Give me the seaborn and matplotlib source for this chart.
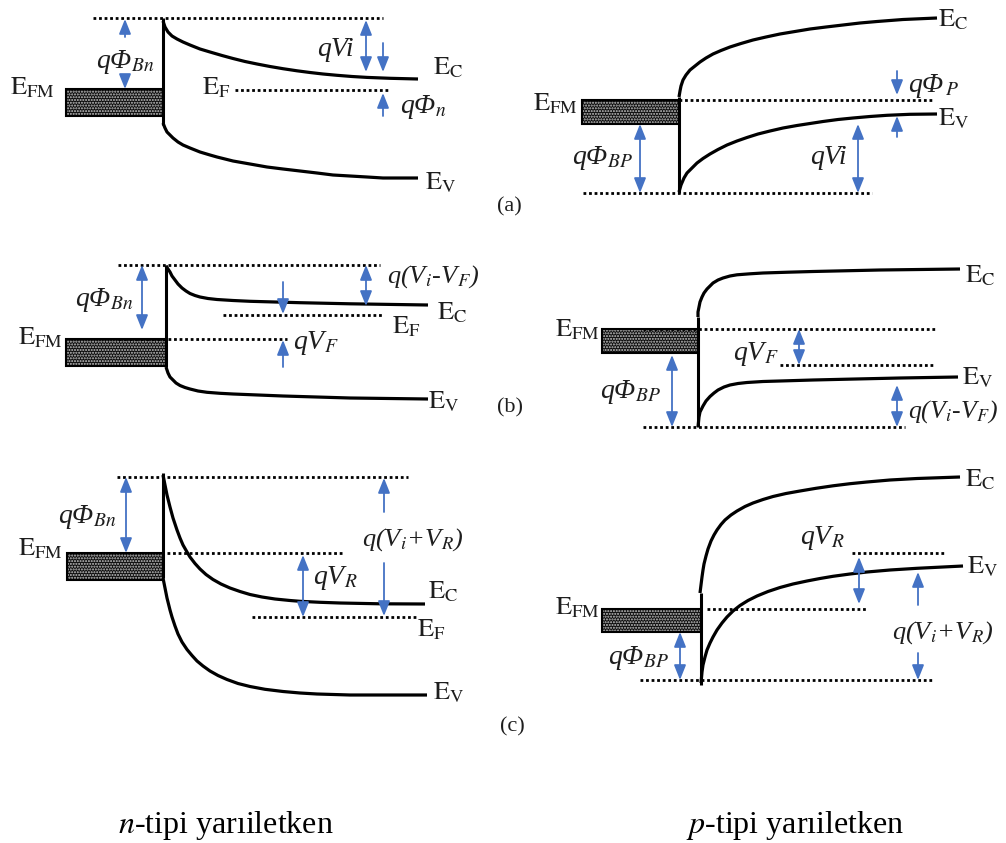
import matplotlib
matplotlib.use("Agg")
import matplotlib.pyplot as plt
from matplotlib.patches import Rectangle
import seaborn as sns

# band diagrams of metal / semiconductor contact, drawn in pixel units of the original image
sns.set_theme(style="white")
plt.rcParams["font.family"] = ["Liberation Serif", "DejaVu Serif"]
plt.rcParams["mathtext.fontset"] = "stix"

BLUE = "#4472C4"
INK = "#1e1e1e"

# ---- conduction / valence band curves (x, y in image pixels) ----
an_ec_x = [163, 165, 168, 172, 177, 183, 190, 200, 210, 222, 233, 245, 257, 270, 283, 297, 310, 323, 337, 352, 367, 390, 418]
an_ec_y = [21, 27, 32, 36, 39, 42, 45, 49, 52, 55.5, 58.5, 61.5, 64, 66.5, 68.7, 70.8, 72.5, 74, 75.3, 76.5, 77.4, 78.3, 79]
an_ev_x = [163, 165, 167, 170, 173, 178, 183, 190, 200, 210, 217, 233, 250, 267, 283, 300, 317, 333, 350, 367, 383, 418]
an_ev_y = [123, 128, 132, 135, 138, 142, 145, 148, 152, 155, 157, 161, 164, 167, 169, 171, 173, 175, 176, 177, 178, 178]

ap_ec_x = [679, 680, 681, 683, 686, 690, 695, 700, 706, 713, 721, 730, 741, 753, 766, 780, 795, 810, 826, 843, 860, 877, 903, 937]
ap_ec_y = [97, 91, 86, 80, 75, 70, 66, 62, 58, 54, 50.5, 47, 43.5, 40, 37, 34, 31.5, 29, 27, 25, 23, 21.5, 19.5, 18]
ap_ev_x = [679, 681, 684, 687, 692, 697, 703, 710, 718, 727, 737, 747, 758, 770, 783, 797, 810, 823, 838, 853, 870, 887, 910, 937]
ap_ev_y = [192, 185, 178, 173, 168, 163, 158.5, 154, 149.5, 145, 141, 137.5, 134, 131, 128, 125.5, 123.5, 121.5, 119.5, 118, 116.5, 115.3, 114.3, 114]

bn_ec_x = [166, 168, 170, 172, 175, 178, 182, 186, 190, 195, 200, 208, 217, 233, 250, 275, 300, 350, 428]
bn_ec_y = [266, 269, 272, 276, 280, 284, 288, 291, 293.5, 295.5, 297, 298.5, 299.5, 300.5, 301.3, 302, 302.7, 303.8, 305]
bn_ev_x = [166, 167, 168, 170, 173, 176, 180, 185, 190, 198, 207, 220, 233, 258, 283, 350, 428]
bn_ev_y = [367, 370, 373, 377, 380, 383, 385.5, 387.5, 389, 391, 392.3, 393.3, 394, 395, 396, 398, 399]

bp_ec_x = [698, 698, 699, 700, 702, 704, 707, 710, 713, 718, 723, 730, 737, 750, 763, 788, 813, 880, 960]
bp_ec_y = [317, 312, 307, 302, 297, 293, 289, 286, 283, 280, 278, 276, 274.8, 273.8, 273, 272.2, 271.5, 270, 269]
bp_ev_x = [698, 699, 700, 703, 706, 710, 714, 718, 724, 730, 738, 747, 763, 780, 813, 847, 900, 958]
bp_ev_y = [427, 417, 412, 406, 401, 396.5, 393, 390, 387, 385, 383.5, 382.5, 381.5, 381, 380, 379.2, 378, 377]

cn_ec_x = [163, 165, 167, 170, 173, 177, 180, 183, 187, 190, 195, 200, 206, 213, 221, 230, 240, 250, 262, 275, 290, 300, 320, 340, 380, 425]
cn_ec_y = [475, 485, 495, 507, 518, 530, 538, 545, 552, 557, 563.5, 569, 574.5, 579.5, 584, 588, 591.5, 594.5, 597, 599, 600.5, 601.3, 602.3, 603, 603.8, 604]
cn_ev_x = [163, 165, 167, 170, 172, 175, 178, 182, 187, 192, 197, 203, 210, 218, 227, 238, 250, 265, 283, 300, 317, 350, 427]
cn_ev_y = [578, 588, 598, 610, 617, 626, 634, 642, 649.5, 655.5, 661, 666, 671, 675.5, 679.5, 683.5, 686.5, 689.3, 691.5, 693, 694, 695, 695]

cp_ec_x = [700, 701, 702, 703, 704, 706, 708, 711, 714, 717, 721, 725, 731, 737, 745, 753, 763, 773, 786, 800, 816, 833, 850, 867, 890, 917, 960]
cp_ec_y = [593, 585, 577, 570, 564, 556, 549, 541, 535, 530, 524.5, 520, 515, 511, 506.5, 503, 499.5, 496.5, 493.5, 491, 488.3, 485.8, 483.7, 482, 480, 478.5, 477]
cp_ev_x = [701, 702, 703, 705, 707, 710, 713, 717, 722, 727, 733, 740, 748, 757, 768, 780, 793, 807, 820, 833, 850, 867, 890, 917, 963]
cp_ev_y = [683, 672, 665, 657, 650, 643, 637, 630, 623, 617, 611, 605.5, 600.5, 596, 591.5, 587.5, 584, 581, 578.5, 576.3, 574, 572, 570, 568.3, 566]

curves = [(an_ec_x, an_ec_y), (an_ev_x, an_ev_y), (ap_ec_x, ap_ec_y), (ap_ev_x, ap_ev_y),
          (bn_ec_x, bn_ec_y), (bn_ev_x, bn_ev_y), (bp_ec_x, bp_ec_y), (bp_ev_x, bp_ev_y),
          (cn_ec_x, cn_ec_y), (cn_ev_x, cn_ev_y), (cp_ec_x, cp_ec_y), (cp_ev_x, cp_ev_y)]

# metal/semiconductor interface: x, y top, y bottom
iface_x = [163, 679, 166, 698, 163, 701]
iface_y0 = [18, 97, 265, 317, 473, 593]
iface_y1 = [125, 193, 367, 427, 578, 685]

# metal blocks: x left, x right, y top, y bottom
metal_x0 = [66, 582, 66, 602, 67, 602]
metal_x1 = [163, 679, 166, 698, 163, 701]
metal_y0 = [89, 100, 339, 329, 553, 609]
metal_y1 = [116, 124, 366, 353, 580, 632]

# dotted levels: y, x start, x end
dot_y = [18, 90, 100, 193, 265, 315, 339, 329, 365, 427, 477, 553, 617, 609, 553, 680]
dot_x0 = [93, 235, 679, 583, 118, 223, 118, 643, 780, 643, 117, 167, 252, 707, 852, 640]
dot_x1 = [383, 390, 933, 872, 380, 383, 287, 935, 935, 905, 408, 343, 417, 868, 945, 932]

# double headed arrows: x, y top, y bottom
dbl_x = [366, 640, 858, 142, 366, 672, 799, 897, 126, 303, 680, 859]
dbl_y0 = [20, 124, 124, 265, 265, 355, 329, 385, 477, 555, 632, 557]
dbl_y1 = [72, 193, 193, 330, 306, 427, 365, 427, 553, 617, 680, 604]

# single arrows: x, tail y, head y
one_x = [125, 125, 383, 383, 897, 897, 283, 283, 384, 384, 918, 918]
one_y0 = [37, 78, 43, 116, 71, 137, 282, 367, 512, 563, 605, 653]
one_y1 = [19, 89, 72, 93, 95, 116, 314, 340, 478, 616, 572, 680]

# band labels
e_txt = [r"$\mathrm{E_{FM}}$", r"$\mathrm{E_C}$", r"$\mathrm{E_F}$", r"$\mathrm{E_V}$",
         r"$\mathrm{E_{FM}}$", r"$\mathrm{E_C}$", r"$\mathrm{E_V}$",
         r"$\mathrm{E_{FM}}$", r"$\mathrm{E_C}$", r"$\mathrm{E_F}$", r"$\mathrm{E_V}$",
         r"$\mathrm{E_{FM}}$", r"$\mathrm{E_C}$", r"$\mathrm{E_V}$",
         r"$\mathrm{E_{FM}}$", r"$\mathrm{E_C}$", r"$\mathrm{E_F}$", r"$\mathrm{E_V}$",
         r"$\mathrm{E_{FM}}$", r"$\mathrm{E_C}$", r"$\mathrm{E_V}$"]
e_x = [10, 433, 202, 425, 533, 938, 938, 18, 437, 392, 428, 555, 965, 962,
       18, 428, 417, 433, 555, 965, 967]
e_y = [88, 68, 88, 183, 104, 20, 119, 338, 313, 327, 402, 330, 276, 378,
       549, 592, 630, 693, 608, 480, 567]

# energy labels (italic)
q_txt = ["qΦ$_{Bn}$", "qVi", "qΦ$_n$",
         "qΦ$_{BP}$", "qVi", "qΦ$_{\\,P}$",
         "qΦ$_{Bn}$", "q(V$_i$-V$_F$)", "qV$_F$",
         "qΦ$_{BP}$", "qV$_F$", "q(V$_i$-V$_F$)",
         "qΦ$_{Bn}$", "q(V$_i$+V$_R$)", "qV$_R$",
         "qΦ$_{BP}$", "qV$_R$", "q(V$_i$+V$_R$)"]
q_x = [96, 317, 400, 572, 810, 908, 75, 387, 293, 600, 733, 908,
       58, 362, 313, 608, 800, 892]
q_y = [62, 50, 107, 158, 157, 86, 300, 277, 343, 392, 354, 412,
       517, 540, 578, 658, 538, 633]
q_size = [20, 20, 20, 20, 20, 20, 20, 19, 20, 20, 20, 18.5,
          20, 19, 20, 20, 20, 19]

case_txt = ["(a)", "(b)", "(c)"]
case_x = [497, 497, 500]
case_y = [207, 408, 727]

foot_txt = ["$\\it{n}$-tipi yarıiletken", "$\\it{p}$-tipi yarıiletken"]
foot_x = [226, 795]
foot_y = [825, 825]

fig = plt.figure(figsize=(10.06, 8.43), dpi=100)
ax = fig.add_axes([0, 0, 1, 1])
ax.set_xlim(0, 1006)
ax.set_ylim(843, 0)
ax.axis("off")

for x0, x1, y0, y1 in zip(metal_x0, metal_x1, metal_y0, metal_y1):
    ax.add_patch(Rectangle((x0, y0), x1 - x0, y1 - y0, facecolor="#0d0d0d",
                           edgecolor="#c8c8c8", hatch="......", lw=0))
    ax.add_patch(Rectangle((x0, y0), x1 - x0, y1 - y0, fill=False,
                           edgecolor="black", lw=1.5))

ax.hlines(dot_y, dot_x0, dot_x1, colors="black", lw=2.0, linestyles=(0, (1, 1)))
ax.vlines(iface_x, iface_y0, iface_y1, colors="black", lw=2.2)

for cx, cy in curves:
    sns.lineplot(x=cx, y=cy, ax=ax, color="black", lw=2.3, sort=False,
                 estimator=None, solid_capstyle="butt", solid_joinstyle="round")

head = dict(color=BLUE, lw=1.3, mutation_scale=20, shrinkA=0, shrinkB=0)
for x, y0, y1 in zip(dbl_x, dbl_y0, dbl_y1):
    ax.annotate("", xy=(x, y1), xytext=(x, y0),
                arrowprops=dict(arrowstyle="<|-|>,head_length=0.45,head_width=0.18", **head))
for x, y0, y1 in zip(one_x, one_y0, one_y1):
    ax.annotate("", xy=(x, y1), xytext=(x, y0),
                arrowprops=dict(arrowstyle="-|>,head_length=0.45,head_width=0.18", **head))

for t, x, y in zip(e_txt, e_x, e_y):
    ax.text(x, y, t, fontsize=19, color=INK, ha="left", va="center")
for t, x, y, s in zip(q_txt, q_x, q_y, q_size):
    ax.text(x, y, t, fontsize=s, color=INK, ha="left", va="center", style="italic")
for t, x, y in zip(case_txt, case_x, case_y):
    ax.text(x, y, t, fontsize=16, color=INK, ha="left", va="center")
for t, x, y in zip(foot_txt, foot_x, foot_y):
    ax.text(x, y, t, fontsize=23, color="black", ha="center", va="center")

fig.savefig("out.png", dpi=100)
